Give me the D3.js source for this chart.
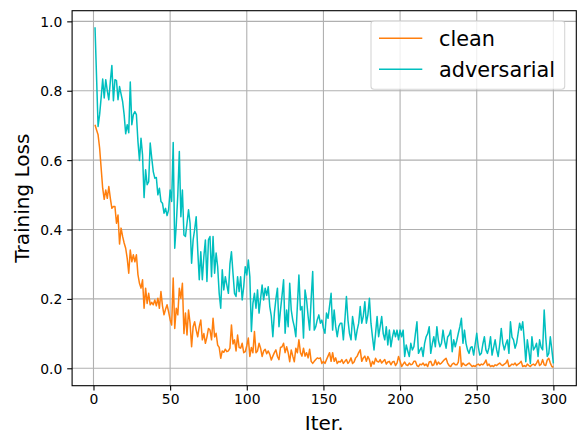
<!DOCTYPE html>
<html>
<head>
<meta charset="utf-8">
<script src="https://cdn.jsdelivr.net/npm/d3@7"></script>
<style>
html,body{margin:0;padding:0;background:#fff;}
svg{display:block;font-family:"DejaVu Sans",sans-serif;}
</style>
</head>
<body>
<svg id="chart" width="577" height="438"></svg>
<script>
const seriesNames = ["clean", "adversarial"];
const xTicks = [0, 50, 100, 150, 200, 250, 300];
const yTicks = [0.0, 0.2, 0.4, 0.6, 0.8, 1.0];
const xLabel = "Iter.";
const yLabel = "Training Loss";

const clean = [
0.702,0.687,0.673,0.635,0.577,0.519,0.487,0.514,0.49,0.524,
0.49,0.461,0.466,0.466,0.418,0.442,0.358,0.404,0.38,0.361,
0.346,0.317,0.274,0.341,0.307,0.327,0.307,0.327,0.27,0.245,
0.231,0.255,0.173,0.231,0.187,0.216,0.183,0.19,0.183,0.197,
0.18,0.202,0.173,0.221,0.18,0.154,0.17,0.183,0.163,0.14,
0.125,0.26,0.115,0.173,0.154,0.231,0.202,0.245,0.10,0.159,
0.096,0.168,0.13,0.062,0.12,0.134,0.11,0.091,0.12,0.139,
0.082,0.10,0.072,0.09,0.115,0.11,0.082,0.144,0.09,0.101,
0.067,0.06,0.029,0.05,0.046,0.055,0.048,0.05,0.058,0.125,
0.07,0.082,0.05,0.096,0.06,0.058,0.072,0.045,0.048,0.065,
0.087,0.034,0.06,0.045,0.106,0.045,0.05,0.072,0.058,0.034,
0.05,0.055,0.042,0.05,0.04,0.024,0.035,0.045,0.053,0.034,
0.025,0.06,0.062,0.072,0.045,0.062,0.045,0.019,0.053,0.035,
0.019,0.058,0.045,0.082,0.045,0.035,0.058,0.035,0.045,0.03,
0.055,0.02,0.014,0.02,0.025,0.03,0.028,0.03,0.014,0.02,
0.014,0.025,0.035,0.045,0.02,0.045,0.02,0.03,0.014,0.02,
0.018,0.025,0.014,0.02,0.025,0.014,0.02,0.03,0.014,0.018,
0.03,0.035,0.045,0.053,0.02,0.03,0.035,0.02,0.034,0.025,
0.005,0.02,0.012,0.029,0.02,0.018,0.025,0.015,0.02,0.025,
0.012,0.018,0.02,0.01,0.018,0.02,0.008,0.015,0.034,0.02,
0.005,0.012,0.018,0.01,0.008,0.015,0.01,0.012,0.02,0.02,
0.008,0.005,0.012,0.01,0.015,0.008,0.012,0.005,0.018,0.02,
0.008,0.01,0.024,0.01,0.018,0.012,0.015,0.02,0.025,0.029,
0.015,0.008,0.005,0.012,0.015,0.01,0.01,0.018,0.062,0.005,
0.015,0.01,0.008,0.012,0.015,0.01,0.005,0.008,0.005,0.01,
0.012,0.008,0.012,0.01,0.015,0.024,0.008,0.012,0.005,0.008,
0.005,0.01,0.008,0.012,0.015,0.01,0.008,0.012,0.015,0.024,
0.005,0.008,0.012,0.01,0.015,0.008,0.012,0.015,0.02,0.005,
0.008,0.005,0.012,0.008,0.005,0.01,0.012,0.008,0.015,0.024,
0.008,0.012,0.025,0.01,0.008,0.024,0.029,0.015,0.005,0.003
];

const adversarial = [
0.983,0.84,0.697,0.731,0.78,0.834,0.779,0.832,0.80,0.774,
0.827,0.873,0.771,0.832,0.829,0.774,0.812,0.79,0.769,0.731,
0.676,0.702,0.679,0.825,0.702,0.731,0.74,0.731,0.654,0.599,
0.663,0.615,0.492,0.572,0.529,0.538,0.649,0.606,0.567,0.548,
0.55,0.50,0.519,0.481,0.476,0.447,0.461,0.44,0.457,0.514,
0.481,0.651,0.346,0.413,0.50,0.625,0.437,0.514,0.384,0.38,
0.418,0.457,0.418,0.303,0.37,0.40,0.437,0.341,0.255,0.336,
0.255,0.322,0.37,0.25,0.37,0.38,0.264,0.38,0.274,0.332,
0.293,0.216,0.173,0.284,0.226,0.264,0.24,0.216,0.30,0.336,
0.274,0.216,0.207,0.264,0.221,0.264,0.197,0.235,0.293,0.269,
0.312,0.264,0.106,0.187,0.216,0.173,0.226,0.159,0.20,0.24,
0.197,0.231,0.21,0.235,0.178,0.15,0.091,0.159,0.20,0.231,
0.12,0.168,0.21,0.255,0.101,0.168,0.12,0.245,0.168,0.139,
0.12,0.091,0.18,0.269,0.168,0.178,0.087,0.226,0.197,0.15,
0.11,0.20,0.279,0.11,0.12,0.14,0.154,0.13,0.139,0.115,
0.101,0.159,0.144,0.18,0.216,0.11,0.168,0.12,0.091,0.12,
0.13,0.13,0.082,0.14,0.207,0.139,0.10,0.082,0.149,0.12,
0.082,0.11,0.13,0.178,0.13,0.15,0.192,0.13,0.154,0.202,
0.13,0.09,0.053,0.10,0.149,0.091,0.12,0.149,0.10,0.082,
0.12,0.067,0.11,0.062,0.09,0.11,0.091,0.11,0.082,0.11,
0.091,0.11,0.034,0.067,0.05,0.034,0.072,0.053,0.062,0.10,
0.134,0.043,0.053,0.06,0.034,0.072,0.091,0.10,0.12,0.043,
0.07,0.091,0.062,0.12,0.08,0.062,0.072,0.11,0.08,0.058,
0.09,0.096,0.11,0.048,0.082,0.062,0.08,0.101,0.12,0.144,
0.072,0.11,0.072,0.053,0.043,0.06,0.062,0.038,0.07,0.101,
0.062,0.038,0.043,0.07,0.091,0.053,0.043,0.06,0.091,0.038,
0.06,0.082,0.053,0.034,0.07,0.115,0.072,0.053,0.07,0.082,
0.043,0.134,0.09,0.082,0.058,0.072,0.101,0.13,0.11,0.134,
0.082,0.019,0.082,0.05,0.014,0.091,0.053,0.06,0.072,0.034,
0.082,0.06,0.053,0.168,0.09,0.034,0.043,0.091,0.053,0.014
];

const colors = {clean: "#ff7f0e", adversarial: "#00bfbf"};
const series = [
  {name: seriesNames[0], values: clean},
  {name: seriesNames[1], values: adversarial}
];

const L = 72.1, R = 576.3, T = 10.7, B = 385.7;
const xs = d3.scaleLinear().domain([-13.95, 314.95]).range([L, R]);
const ys = d3.scaleLinear().domain([-0.0502, 1.0307]).range([B, T]);

const svg = d3.select("#chart");

// grid
const grid = svg.append("g").attr("stroke", "#b0b0b0").attr("stroke-width", 1.1);
xTicks.forEach(t => grid.append("line").attr("x1", xs(t)).attr("x2", xs(t)).attr("y1", T).attr("y2", B));
yTicks.forEach(t => grid.append("line").attr("x1", L).attr("x2", R).attr("y1", ys(t)).attr("y2", ys(t)));

// lines
const line = d3.line().x((d, i) => xs(i + 1)).y(d => ys(d));
const clipId = "clip";
svg.append("clipPath").attr("id", clipId).append("rect").attr("x", L).attr("y", T).attr("width", R - L).attr("height", B - T);
series.forEach(s => {
  svg.append("path").datum(s.values).attr("d", line)
    .attr("fill", "none").attr("stroke", colors[s.name]).attr("stroke-width", 1.5)
    .attr("stroke-linejoin", "round").attr("clip-path", "url(#clip)");
});

// axes
const xAxis = d3.axisBottom(xs).tickValues(xTicks).tickSize(4.9).tickPadding(3.2).tickFormat(d3.format("d"));
const yAxis = d3.axisLeft(ys).tickValues(yTicks).tickSize(4.9).tickPadding(4.9).tickFormat(d3.format(".1f"));
const gx = svg.append("g").attr("transform", `translate(0,${B})`).call(xAxis);
const gy = svg.append("g").attr("transform", `translate(${L},0)`).call(yAxis);
[gx, gy].forEach(g => {
  g.select(".domain").remove();
  g.selectAll(".tick line").attr("stroke", "#000").attr("stroke-width", 1.1);
  g.selectAll(".tick text").attr("fill", "#000").style("font-size", "13.9px").style("font-family", "DejaVu Sans");
});
gy.selectAll(".tick text").attr("dy", "0.36em");

// frame
svg.append("rect").attr("x", L).attr("y", T).attr("width", R - L).attr("height", B - T)
  .attr("fill", "none").attr("stroke", "#000").attr("stroke-width", 1.1);

// labels
svg.append("text").attr("x", (L + R) / 2).attr("y", 430).attr("text-anchor", "middle")
  .style("font-size", "20px").text(xLabel);
svg.append("text").attr("transform", `translate(29,${(T + B) / 2}) rotate(-90)`).attr("text-anchor", "middle")
  .style("font-size", "20px").text(yLabel);

// legend
const lg = svg.append("g");
lg.append("rect").attr("x", 371).attr("y", 21).attr("width", 193.7).attr("height", 68.3).attr("rx", 3)
  .attr("fill", "#fff").attr("fill-opacity", 0.8).attr("stroke", "#cccccc").attr("stroke-opacity", 0.8).attr("stroke-width", 1.1);
series.forEach((s, i) => {
  const yy = 38.3 + i * 31;
  lg.append("line").attr("x1", 379).attr("x2", 422.3).attr("y1", yy).attr("y2", yy)
    .attr("stroke", colors[s.name]).attr("stroke-width", 1.5);
  lg.append("text").attr("x", 439).attr("y", yy).attr("dy", "0.36em").style("font-size", "20.8px").text(s.name);
});
</script>
</body>
</html>
